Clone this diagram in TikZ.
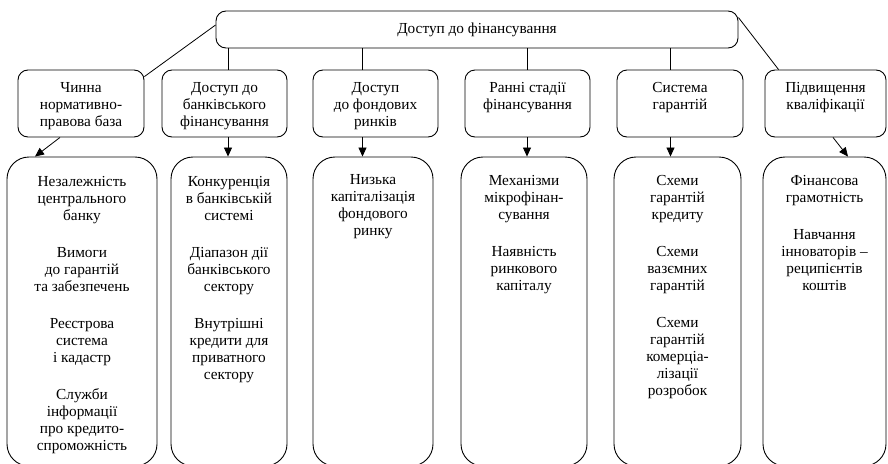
\documentclass[tikz,border=0pt]{standalone}
\usepackage{fontspec}
\setmainfont{Liberation Serif}
\usetikzlibrary{arrows.meta}
\begin{document}
\begin{tikzpicture}[x=1pt,y=-1pt,
  every node/.style={font=\fontsize{15.3}{17}\selectfont},
  boxA/.style={draw, line width=0.9pt, rounded corners=10pt, inner sep=0pt},
  boxB/.style={draw, line width=0.9pt, rounded corners=22pt, inner sep=0pt},
  txt/.style={align=center, inner sep=0pt, anchor=north, execute at begin node=\strut},
  link/.style={line width=0.8pt},
  arr/.style={line width=0.8pt, -{Triangle[length=9pt,width=8pt]}}]
\useasboundingbox (0,0) rectangle (888,463);

% column line positions
\coordinate (c2) at (228,0);
\coordinate (c3) at (362.5,0);
\coordinate (c4) at (527,0);
\coordinate (c5) at (670.5,0);

% top box
\node[boxA, minimum width=522pt, minimum height=37pt] (top) at (477,29.5) {Доступ до фінансування};

% upper row
\node[boxA, minimum width=126pt, minimum height=67pt] (b1) at (81,103.5) {};
\node[boxA, minimum width=125pt, minimum height=67pt] (b2) at (224.5,103.5) {};
\node[boxA, minimum width=125pt, minimum height=67pt] (b3) at (375.5,103.5) {};
\node[boxA, minimum width=125pt, minimum height=67pt] (b4) at (527.5,103.5) {};
\node[boxA, minimum width=126pt, minimum height=67pt] (b5) at (680,103.5) {};
\node[boxA, minimum width=121pt, minimum height=67pt] (b6) at (825.5,103.5) {};

\begin{scope}
\clip (0,0) rectangle (888,129.5);
\node[txt] (t1) at ([yshift=-12.5pt]b1.north) {Чинна\\нормативно-\\правова база};
\node[txt] (t2) at ([yshift=-12.5pt]b2.north) {Доступ до\\банківського\\фінансування};
\node[txt] (t3) at ([yshift=-12.5pt]b3.north) {Доступ\\до фондових\\ринків};
\node[txt] (t4) at ([yshift=-12.5pt]b4.north) {Ранні стадії\\фінансування};
\node[txt] (t5) at ([yshift=-12.5pt]b5.north) {Система\\гарантій};
\node[txt] (t6) at ([yshift=-12.5pt]b6.north) {Підвищення\\кваліфікації};
\end{scope}

% lower row
\node[boxB, minimum width=150pt, minimum height=309pt] (l1) at (82,311.5) {};
\node[boxB, minimum width=116pt, minimum height=309pt] (l2) at (229,311.5) {};
\node[boxB, minimum width=120pt, minimum height=309pt] (l3) at (373,311.5) {};
\node[boxB, minimum width=126pt, minimum height=309pt] (l4) at (524,311.5) {};
\node[boxB, minimum width=127pt, minimum height=309pt] (l5) at (677.5,311.5) {};
\node[boxB, minimum width=123pt, minimum height=309pt] (l6) at (824.5,311.5) {};

\node[txt] (u1) at ([yshift=-20pt]l1.north) {Незалежність\\центрального\\банку\\[20pt]Вимоги\\до гарантій\\та забезпечень\\[20pt]Реєстрова\\система\\і кадастр\\[20pt]Служби\\інформації\\про кредито-\\спроможність};
\node[txt] (u2) at ([yshift=-20pt]l2.north) {Конкуренція\\в банківській\\системі\\[20pt]Діапазон дії\\банківського\\сектору\\[20pt]Внутрішні\\кредити для\\приватного\\сектору};
\node[txt] (u3) at ([yshift=-18pt]l3.north) {Низька\\капіталізація\\фондового\\ринку};
\node[txt] (u4) at ([yshift=-18.5pt]l4.north) {Механізми\\мікрофінан-\\сування\\[20pt]Наявність\\ринкового\\капіталу};
\node[txt] (u5) at ([yshift=-18.5pt]l5.north) {Схеми\\гарантій\\кредиту\\[20pt]Схеми\\вазємних\\гарантій\\[20pt]Схеми\\гарантій\\комерціа-\\лізації\\розробок};
\node[txt] (u6) at ([yshift=-18.5pt]l6.north) {Фінансова\\грамотність\\[20pt]Навчання\\інноваторів –\\реципієнтів\\коштів};

% connectors top -> upper row
\draw[link] ([yshift=4.5pt]top.west) -- ([yshift=-7pt]b1.north east);
\draw[link] (top.south -| c2) -- (b2.north -| c2);
\draw[link] (top.south -| c3) -- (b3.north -| c3);
\draw[link] (top.south -| c4) -- (b4.north -| c4);
\draw[link] (top.south -| c5) -- (b5.north -| c5);
\draw[link] ([yshift=-7pt]top.north east) -- ([xshift=14pt]b6.north west);

% arrows upper -> lower
\draw[arr] ([xshift=-21pt]b1.south) -- ([xshift=-47pt]l1.north);
\draw[arr] (b2.south -| c2) -- (l2.north -| c2);
\draw[arr] (b3.south -| c3) -- (l3.north -| c3);
\draw[arr] (b4.south -| c4) -- (l4.north -| c4);
\draw[arr] (b5.south -| c5) -- (l5.north -| c5);
\draw[arr] ([xshift=7.5pt]b6.south) -- ([xshift=23.5pt]l6.north);
\end{tikzpicture}
\end{document}
